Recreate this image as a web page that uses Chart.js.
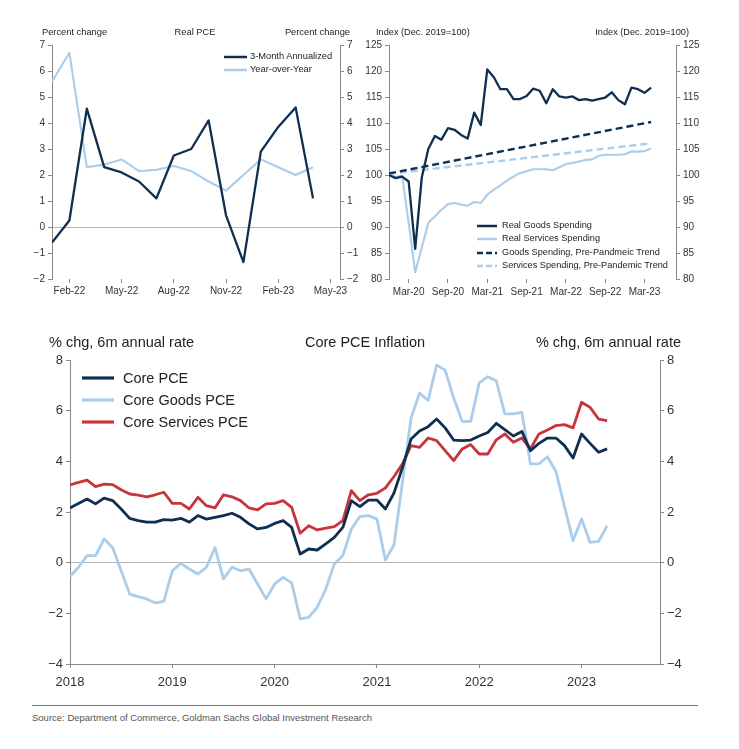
<!DOCTYPE html>
<html>
<head>
<meta charset="utf-8">
<script src="https://cdn.jsdelivr.net/npm/chart.js@4.4.0/dist/chart.umd.min.js"></script>
<style>
  body { margin: 0; background: #fff; width: 739px; height: 749px; position: relative; overflow: hidden;
         font-family: "Liberation Sans", Arial, sans-serif; }
  .box { position: absolute; }
  .t { position: absolute; white-space: nowrap; color: #222; line-height: 1; }
  svg { position: absolute; overflow: visible; }
</style>
</head>
<body>
<div class="box" id="box-pce" style="left:12px;top:30px;width:368px;height:275px"><canvas id="pce"></canvas></div>
<div class="box" id="box-spend" style="left:350px;top:30px;width:370px;height:275px"><canvas id="spend"></canvas></div>
<div class="box" id="box-core" style="left:10px;top:345px;width:700px;height:345px"><canvas id="core"></canvas></div>
<script>
// Real PCE (top left)
const pceMonths = ['Jan-22','Feb-22','Mar-22','Apr-22','May-22','Jun-22','Jul-22','Aug-22',
                   'Sep-22','Oct-22','Nov-22','Dec-22','Jan-23','Feb-23','Mar-23','Apr-23'];
const pce3m  = [-0.6, 0.25, 4.55, 2.3, 2.1, 1.75, 1.1, 2.75, 3.0, 4.1, 0.45, -1.35, 2.9, 3.85, 4.6, 1.1];
const pceYoY = [5.6, 6.7, 2.3, 2.4, 2.6, 2.15, 2.2, 2.35, 2.15, 1.75, 1.4, 2.0, 2.6, 2.3, 2.0, 2.3];
const pceTickLabels = ['Feb-22','May-22','Aug-22','Nov-22','Feb-23','May-23'];

// Goods / services spending (top right)
const spendMonths = ['Dec-19',
  'Jan-20','Feb-20','Mar-20','Apr-20','May-20','Jun-20','Jul-20','Aug-20','Sep-20','Oct-20','Nov-20','Dec-20',
  'Jan-21','Feb-21','Mar-21','Apr-21','May-21','Jun-21','Jul-21','Aug-21','Sep-21','Oct-21','Nov-21','Dec-21',
  'Jan-22','Feb-22','Mar-22','Apr-22','May-22','Jun-22','Jul-22','Aug-22','Sep-22','Oct-22','Nov-22','Dec-22',
  'Jan-23','Feb-23','Mar-23','Apr-23'];
const goodsSpending = [100.0, 99.4, 99.7, 98.75, 85.8, 99.5, 105.0, 107.5, 106.8, 109.0, 108.7, 107.7, 107.0,
  112.0, 109.6, 120.3, 118.8, 116.5, 116.5, 114.6, 114.6, 115.2, 116.6, 116.2, 113.8,
  116.5, 115.1, 114.9, 115.1, 114.4, 114.6, 114.3, 114.6, 114.9, 115.9, 114.4, 113.6,
  116.8, 116.5, 115.8, 116.8];
const servicesSpending = [100.0, 99.6, 99.9, 90.8, 81.3, 86.0, 90.8, 92.0, 93.3, 94.4, 94.6, 94.3, 94.1,
  94.8, 94.6, 96.2, 97.2, 98.0, 98.9, 99.7, 100.4, 100.7, 101.1, 101.1, 101.1,
  100.9, 101.5, 102.1, 102.3, 102.6, 102.9, 103.0, 103.7, 103.9, 103.9, 103.9, 104.0,
  104.5, 104.5, 104.6, 105.1];
const trendMonths = ['Dec-19', 'Apr-23'];
const goodsTrend = [100.3, 110.2];
const servicesTrend = [100.2, 106.1];
const spendTickLabels = ['Mar-20','Sep-20','Mar-21','Sep-21','Mar-22','Sep-22','Mar-23'];

// Core PCE inflation (bottom)
const coreMonths = [
  'Jan-18','Feb-18','Mar-18','Apr-18','May-18','Jun-18','Jul-18','Aug-18','Sep-18','Oct-18','Nov-18','Dec-18',
  'Jan-19','Feb-19','Mar-19','Apr-19','May-19','Jun-19','Jul-19','Aug-19','Sep-19','Oct-19','Nov-19','Dec-19',
  'Jan-20','Feb-20','Mar-20','Apr-20','May-20','Jun-20','Jul-20','Aug-20','Sep-20','Oct-20','Nov-20','Dec-20',
  'Jan-21','Feb-21','Mar-21','Apr-21','May-21','Jun-21','Jul-21','Aug-21','Sep-21','Oct-21','Nov-21','Dec-21',
  'Jan-22','Feb-22','Mar-22','Apr-22','May-22','Jun-22','Jul-22','Aug-22','Sep-22','Oct-22','Nov-22','Dec-22',
  'Jan-23','Feb-23','Mar-23','Apr-23'];
const corePce = [2.16, 2.34, 2.51, 2.32, 2.55, 2.45, 2.12, 1.75, 1.66, 1.6, 1.6, 1.7,
  1.68, 1.75, 1.6, 1.86, 1.72, 1.79, 1.86, 1.95, 1.79, 1.53, 1.33, 1.39,
  1.55, 1.66, 1.39, 0.34, 0.54, 0.5, 0.74, 1.0, 1.39, 2.45, 2.21, 2.47,
  2.47, 2.12, 2.75, 3.76, 4.88, 5.2, 5.37, 5.67, 5.32, 4.84, 4.82, 4.84,
  5.0, 5.14, 5.5, 5.25, 5.0, 5.18, 4.42, 4.71, 4.92, 4.92, 4.62, 4.13,
  5.08, 4.71, 4.36, 4.49];
const coreGoods = [-0.55, -0.18, 0.28, 0.28, 0.93, 0.6, -0.32, -1.24, -1.34, -1.43, -1.59, -1.53,
  -0.32, -0.03, -0.25, -0.45, -0.18, 0.6, -0.64, -0.18, -0.32, -0.25, -0.84, -1.43,
  -0.84, -0.58, -0.8, -2.22, -2.16, -1.76, -1.04, -0.05, 0.28, 1.33, 1.82, 1.86,
  1.72, 0.1, 0.7, 3.2, 5.7, 6.7, 6.4, 7.8, 7.6, 6.5, 5.58, 5.58,
  7.1, 7.34, 7.18, 5.87, 5.87, 5.93, 3.9, 3.9, 4.18, 3.6, 2.2, 0.87,
  1.72, 0.8, 0.84, 1.46];
const coreServices = [3.07, 3.17, 3.26, 3.0, 3.1, 3.08, 2.88, 2.71, 2.67, 2.6, 2.68, 2.78,
  2.34, 2.34, 2.12, 2.58, 2.25, 2.16, 2.68, 2.6, 2.45, 2.16, 2.08, 2.32,
  2.34, 2.45, 2.18, 1.16, 1.46, 1.29, 1.36, 1.42, 1.66, 2.84, 2.45, 2.68,
  2.74, 2.95, 3.4, 3.9, 4.62, 4.55, 4.92, 4.82, 4.42, 4.03, 4.49, 4.66,
  4.29, 4.29, 4.85, 5.08, 4.75, 4.92, 4.49, 5.08, 5.24, 5.41, 5.45, 5.32,
  6.33, 6.13, 5.67, 5.61];
const coreTickLabels = ['2018','2019','2020','2021','2022','2023'];

const NAVY = '#0f2f50';
const LIGHT = '#a9cdeb';
const RED = '#c8343b';
const AXIS = '#8a8a8a';
const FONT = '"Liberation Sans", Arial, sans-serif';

const MON = ['Jan','Feb','Mar','Apr','May','Jun','Jul','Aug','Sep','Oct','Nov','Dec'];
function monthNum(label) {
  const [m, y] = label.split('-');
  return (2000 + Number(y)) * 12 + MON.indexOf(m);
}
function points(months, values) {
  const base = monthNum(months[0]);
  return values.map((v, i) => ({ x: monthNum(months[i]) - base, y: v }));
}
function fmt(v) { return v < 0 ? '\u2212' + Math.abs(v) : String(v); }

function line(label, data, color, width, dash) {
  return { label, data, borderColor: color, borderWidth: width, borderDash: dash || [],
           pointRadius: 0, tension: 0, borderJoinStyle: 'round', fill: false };
}

// shared axis builders; widths are fixed so the plot areas land where the reference has them
function yAxis(pos, min, max, step, width, size, zeroLine) {
  return {
    type: 'linear', position: pos, min, max,
    afterFit: s => { s.width = width; },
    ticks: { stepSize: step, color: '#333', font: { family: FONT, size }, padding: 3, callback: fmt },
    grid: {
      drawOnChartArea: !!zeroLine, tickLength: 4, tickColor: AXIS,
      color: c => (zeroLine && c.tick && c.tick.value === 0) ? '#b5b5b5' : 'rgba(0,0,0,0)'
    },
    border: { display: true, color: AXIS }
  };
}
function xAxis(max, tickLabels, base, height, size, pad, showBorder, toValue) {
  return {
    type: 'linear', min: 0, max,
    afterFit: s => { s.height = height; },
    afterBuildTicks: s => { s.ticks = tickLabels.map(l => ({ value: toValue(l) - base })); },
    ticks: { autoSkip: false, maxRotation: 0, color: '#333', font: { family: FONT, size }, padding: pad,
             callback: (v, i) => tickLabels[i] },
    grid: { drawOnChartArea: false, tickLength: 4, tickColor: AXIS },
    border: { display: showBorder, color: AXIS }
  };
}
const baseOptions = {
  responsive: true, maintainAspectRatio: false, animation: false,
  layout: { padding: { top: 15, left: 0, right: 0, bottom: 0 } },
  plugins: { legend: { display: false }, tooltip: { enabled: false } }
};

// Real PCE
new Chart(document.getElementById('pce'), {
  type: 'line',
  data: { datasets: [
    line('3-Month Annualized', points(pceMonths, pce3m), NAVY, 2.3),
    line('Year-over-Year', points(pceMonths, pceYoY), LIGHT, 2.1)
  ] },
  options: { ...baseOptions, scales: {
    x: xAxis(16.55, pceTickLabels, monthNum(pceMonths[0]), 26, 10, 2, false, monthNum),
    y: yAxis('left', -2, 7, 1, 40, 10, true),
    y2: yAxis('right', -2, 7, 1, 40, 10, false)
  } }
});

// Goods and services spending
new Chart(document.getElementById('spend'), {
  type: 'line',
  data: { datasets: [
    line('Real Goods Spending', points(spendMonths, goodsSpending), NAVY, 2.3),
    line('Real Services Spending', points(spendMonths, servicesSpending), LIGHT, 2.1),
    line('Goods Spending, Pre-Pandmeic Trend', points(trendMonths, goodsTrend), NAVY, 2.4, [7, 4]),
    line('Services Spending, Pre-Pandemic Trend', points(trendMonths, servicesTrend), LIGHT, 2.4, [7, 4])
  ] },
  options: { ...baseOptions, scales: {
    x: xAxis(43.8, spendTickLabels, monthNum(spendMonths[0]), 26, 10, 3, false, monthNum),
    y: yAxis('left', 80, 125, 5, 39, 10, false),
    y2: yAxis('right', 80, 125, 5, 44, 10, false)
  } }
});

// Core PCE inflation
new Chart(document.getElementById('core'), {
  type: 'line',
  data: { datasets: [
    line('Core PCE', points(coreMonths, corePce), NAVY, 2.8),
    line('Core Services PCE', points(coreMonths, coreServices), RED, 2.8),
    line('Core Goods PCE', points(coreMonths, coreGoods), LIGHT, 2.8)
  ] },
  options: { ...baseOptions, scales: {
    x: xAxis(69.2, coreTickLabels, monthNum(coreMonths[0]), 26, 13, 7, true,
             l => monthNum('Jan-' + l.slice(2))),
    y: yAxis('left', -4, 8, 2, 60, 13, true),
    y2: yAxis('right', -4, 8, 2, 50, 13, false)
  } }
});

// titles, legends, source
function addText(txt, x, y, size, align, family, color) {
  const d = document.createElement('div');
  d.className = 't';
  d.textContent = txt;
  d.style.left = x + 'px';
  d.style.top = y + 'px';
  d.style.fontSize = size + 'px';
  const tx = align === 'right' ? '-100%' : align === 'center' ? '-50%' : '0';
  d.style.transform = `translate(${tx}, -50%)`;
  if (family) d.style.fontFamily = family;
  if (color) d.style.color = color;
  document.body.appendChild(d);
}
function addSample(x, y, len, color, width, dash) {
  const ns = 'http://www.w3.org/2000/svg';
  const svg = document.createElementNS(ns, 'svg');
  svg.setAttribute('width', len);
  svg.setAttribute('height', 6);
  svg.style.left = x + 'px';
  svg.style.top = (y - 3) + 'px';
  const l = document.createElementNS(ns, 'line');
  l.setAttribute('x1', 0); l.setAttribute('x2', len);
  l.setAttribute('y1', 3); l.setAttribute('y2', 3);
  l.setAttribute('stroke', color);
  l.setAttribute('stroke-width', width);
  if (dash) l.setAttribute('stroke-dasharray', dash.join(','));
  svg.appendChild(l);
  document.body.appendChild(svg);
}

addText('Percent change', 42, 33, 9.3, 'left');
addText('Real PCE', 195, 33, 9.3, 'center');
addText('Percent change', 350, 33, 9.3, 'right');
addSample(224, 57, 23, NAVY, 2.5);
addText('3-Month Annualized', 250, 57, 9.3, 'left');
addSample(224, 70, 23, LIGHT, 2.5);
addText('Year-over-Year', 250, 70, 9.3, 'left');

addText('Index (Dec. 2019=100)', 376, 33, 9.2, 'left');
addText('Index (Dec. 2019=100)', 689, 33, 9.2, 'right');
const spendLegend = [
  ['Real Goods Spending', NAVY, null],
  ['Real Services Spending', LIGHT, null],
  ['Goods Spending, Pre-Pandmeic Trend', NAVY, [6, 3]],
  ['Services Spending, Pre-Pandemic Trend', LIGHT, [6, 3]]
];
spendLegend.forEach(([txt, c, dash], i) => {
  const y = 226 + i * 13.4;
  addSample(477, y, 20, c, 2.5, dash);
  addText(txt, 502, y, 9.2, 'left');
});

addText('% chg, 6m annual rate', 49, 342, 14.5, 'left');
addText('Core PCE Inflation', 365, 342, 14.5, 'center');
addText('% chg, 6m annual rate', 681, 342, 14.5, 'right');
const coreLegend = [['Core PCE', NAVY], ['Core Goods PCE', LIGHT], ['Core Services PCE', RED]];
coreLegend.forEach(([txt, c], i) => {
  const y = 378 + i * 22;
  addSample(82, y, 32, c, 3.2);
  addText(txt, 123, y, 14.5, 'left');
});

const rule = document.createElement('div');
rule.style.cssText = 'position:absolute;left:32px;top:705px;width:666px;height:1px;background:#777';
document.body.appendChild(rule);
addText('Source: Department of Commerce, Goldman Sachs Global Investment Research', 32, 718, 9.5,
        'left', '"Liberation Sans Narrow", "Liberation Sans", Arial, sans-serif', '#555');
</script>
</body>
</html>
